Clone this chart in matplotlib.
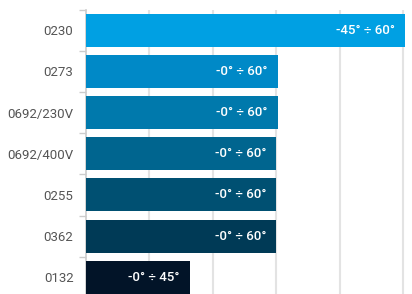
import matplotlib
matplotlib.use('Agg')
import matplotlib.pyplot as plt
import matplotlib.transforms as mtransforms

categories = ['0230', '0273', '0692/230V', '0692/400V', '0255', '0362', '0132']
values = [100.6, 60.5, 60.5, 60.0, 60.0, 60.0, 32.7]
labels = ['-45° ÷ 60°', '-0° ÷ 60°', '-0° ÷ 60°', '-0° ÷ 60°', '-0° ÷ 60°', '-0° ÷ 60°', '-0° ÷ 45°']
colors = ['#00a0e3', '#0089c7', '#0079ac', '#00658f', '#005072', '#003a56', '#021428']

plt.rcParams['font.family'] = ['Roboto', 'DejaVu Sans']

fig = plt.figure(figsize=(4.12, 2.94), dpi=100)
ax = fig.add_axes([86 / 412, -4 / 294, 326 / 412, 288.5 / 294])

y = list(range(len(categories)))
ax.barh(y, values, height=0.8, color=colors, zorder=3)

ax.set_xlim(0, 102.8)
ax.set_ylim(len(categories) - 0.5, -0.5)

# vertical grid lines every 20
for gx in [20, 40, 60, 80, 100]:
    ax.axvline(gx, color='#e3e3e3', lw=1.5, zorder=1)

# category labels
ax.set_yticks(y)
ax.set_yticklabels(categories, color='#555555', fontsize=9.5)
ax.tick_params(axis='y', length=0, pad=9)
ax.set_yticks([i - 0.5 for i in range(len(categories) + 1)], minor=True)
ax.tick_params(axis='y', which='minor', length=5, color='#cccccc', width=1)
ax.set_xticks([])

for s in ['top', 'right', 'bottom']:
    ax.spines[s].set_visible(False)
ax.spines['left'].set_color('#cccccc')
ax.spines['left'].set_linewidth(1.2)

offset = mtransforms.offset_copy(ax.transData, fig=fig, x=-10, y=0, units='dots')
for i, (v, lab) in enumerate(zip(values, labels)):
    ax.text(v, i, lab, transform=offset, ha='right', va='center',
            color='white', fontsize=9.5, fontweight='medium', zorder=4)

fig.savefig('out.png', dpi=100)
